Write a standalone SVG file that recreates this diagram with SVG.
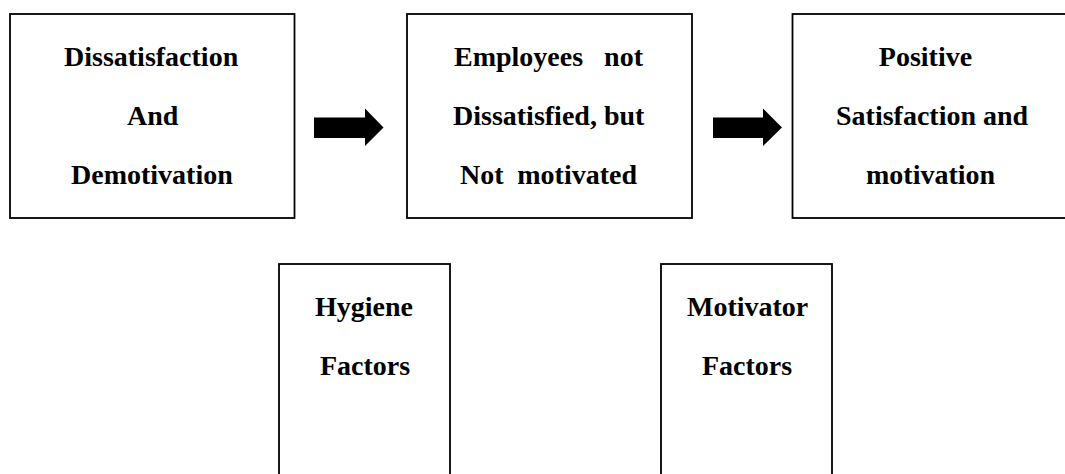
<svg xmlns="http://www.w3.org/2000/svg" width="1065" height="474" viewBox="0 0 1065 474">
<style>
.box{fill:#fff;stroke:#000;stroke-width:1.8}
.t{font-family:"Liberation Serif","Times New Roman",serif;font-weight:bold;font-size:28px;fill:#000}
.arr{fill:#000}
</style>
<rect width="1065" height="474" fill="#fff"/>
<g id="node-dissatisfaction">
<rect class="box" x="10" y="14" width="284.5" height="204"/>
<text class="t" x="64" y="66">Dissatisfaction</text>
<text class="t" x="127" y="125">And</text>
<text class="t" x="71" y="184">Demotivation</text>
</g>
<g id="node-not-dissatisfied">
<rect class="box" x="407" y="14" width="285" height="204"/>
<text class="t" y="66"><tspan x="454">Employees</tspan><tspan x="643" text-anchor="end">not</tspan></text>
<text class="t" x="453" y="125">Dissatisfied, but</text>
<text class="t" y="184"><tspan x="460">Not</tspan><tspan x="637" text-anchor="end">motivated</tspan></text>
</g>
<g id="node-positive">
<rect class="box" x="792.5" y="14" width="290" height="204"/>
<text class="t" x="925.5" y="66" text-anchor="middle">Positive</text>
<text class="t" x="836" y="125">Satisfaction and</text>
<text class="t" x="866" y="184">motivation</text>
</g>
<g id="node-hygiene">
<rect class="box" x="279" y="264" width="171" height="220"/>
<text class="t" x="315" y="316">Hygiene</text>
<text class="t" x="320" y="375">Factors</text>
</g>
<g id="node-motivator">
<rect class="box" x="661" y="264" width="171" height="220"/>
<text class="t" x="687" y="316">Motivator</text>
<text class="t" x="702" y="375">Factors</text>
</g>
<g id="connectors">
<polygon class="arr" points="314,117.5 365,117.5 365,108.5 383.5,127.5 365,146 365,138 314,138"/>
<polygon class="arr" points="713,117.5 763,117.5 763,108.5 782,127.5 763,146 763,138 713,138"/>
</g>
</svg>
